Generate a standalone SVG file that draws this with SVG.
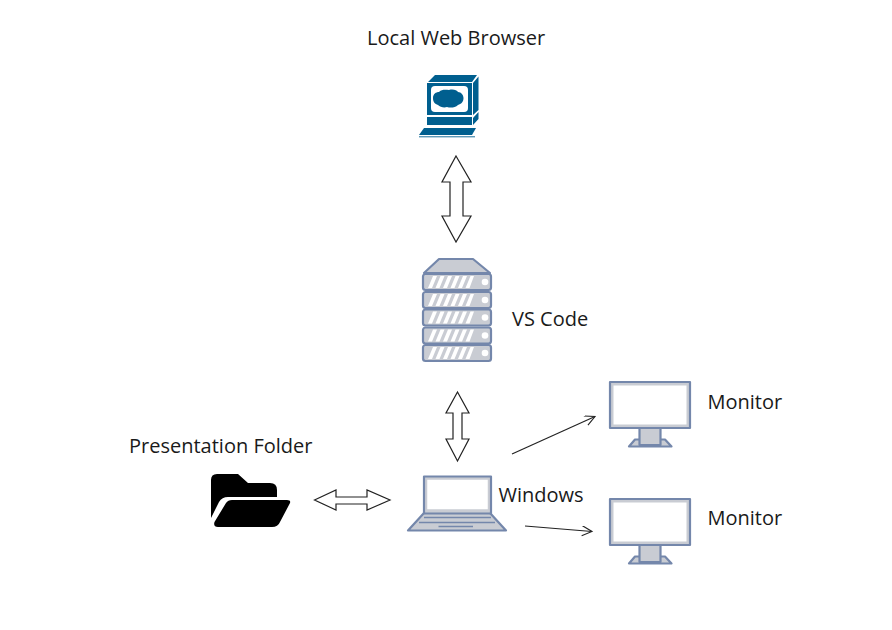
<svg xmlns="http://www.w3.org/2000/svg" width="892" height="630" viewBox="0 0 892 630">
<style>
text{font-family:"Open Sans","Noto Sans",sans-serif;font-size:20px;fill:#1a1a1a}
.b{fill:#005f8f}
.o{fill:#c9ccd3;stroke:#7487ab;stroke-width:2.2;stroke-linejoin:round}
.w{fill:#fff}
.blk{fill:none;stroke:#222;stroke-width:1.2}
.dbl{fill:#fff;stroke:#222;stroke-width:1.2;stroke-linejoin:miter}
</style>
<defs>
<marker id="open" markerWidth="14" markerHeight="12" refX="11" refY="5" orient="auto" markerUnits="userSpaceOnUse"><path d="M1 0L11 5L1 10" fill="none" stroke="#222" stroke-width="1.1"/></marker>
<g id="monitor">
<path class="o" d="M629 64.500L635 57.500H665L671.500 64.500Z"/>
<rect class="o" x="639.500" y="46" width="21" height="17"/>
<rect class="o" x="610" y="0" width="80" height="46"/>
<rect x="613.500" y="3.500" width="73" height="39" fill="#fff"/>
</g>
<g id="unit">
<rect class="o" x="423" y="0" width="68" height="16" rx="2.500"/>
<path class="w" d="M428 14L433 2H437L432 14ZM435.500 14L440.500 2H444.500L439.500 14ZM443 14L448 2H452L447 14ZM450.500 14L455.500 2H459.500L454.500 14ZM458 14L463 2H467L462 14ZM465.500 14L470.500 2H474L469.500 14Z"/>
<circle class="w" cx="485" cy="8" r="3.300"/>
</g>
</defs>
<g id="browser">
<text x="367" y="45">Local Web Browser</text>
<path class="b" d="M428 82L435 75H477L472 82ZM473 83L478.500 76.500V110L473 115ZM473 118L478.500 112V119L473 125Z"/>
<rect class="b" x="427" y="83" width="45" height="32"/>
<rect x="431" y="86" width="37" height="26" rx="4" fill="#fff"/>
<path class="b" d="M433 98C433 94 436 92 439 92C442 89 446 90 449 90C453 89 457 90 458 92C461 92 463.500 95 463.500 98C463.500 102 461 104 458 105C455 108 450 108 447 107C444 108 440 107 438 105C435 104 433 102 433 98Z"/>
<rect class="b" x="427" y="117" width="45" height="8"/>
<path class="b" d="M424 128H476L472 135H419Z"/>
<path d="M419 136.800H475" stroke="#005f8f" stroke-width="0.900"/>
</g>
<g id="vscode">
<path class="o" d="M424 273L439 259H473L490 273Z"/>
<use href="#unit" y="274"/>
<use href="#unit" y="292"/>
<use href="#unit" y="309.500"/>
<use href="#unit" y="327.500"/>
<use href="#unit" y="345"/>
<text x="512" y="326">VS Code</text>
</g>
<g id="monitor1">
<use href="#monitor" y="382"/>
<text x="707.500" y="409">Monitor</text>
</g>
<g id="monitor2">
<use href="#monitor" y="499"/>
<text x="707.500" y="525">Monitor</text>
</g>
<g id="windows">
<path class="o" d="M424 513L408 530.500H506L490 513Z"/>
<rect class="o" x="424" y="476.500" width="67" height="37"/>
<rect x="426.500" y="479" width="62" height="31" fill="#fff" stroke="#c9ccd3" stroke-width="1.500"/>
<path d="M424 517.500H491M419 522.500H495M438.500 526.500H473" stroke="#7487ab" stroke-width="1.500" fill="none"/>
<text x="498.500" y="502">Windows</text>
</g>
<g id="folder">
<text x="129" y="453">Presentation Folder</text>
<path d="M211 518V480Q211 474 217 474H238L248 483H270Q277 483 277 490V497H228Q222 497 219 502Z"/>
<path d="M214.500 522L226 503Q228 500 232 500H287Q291 500 290 503L280 522Q278 527 272 527H218Q213 527 214.500 522Z"/>
</g>
<g id="connectors">
<path class="dbl" d="M456 156L471 182H463V216H471L456 242L442 216H450V182H442Z"/>
<path class="dbl" d="M457.500 392L469 413H462V439H469L457.500 461L446 439H453V413H446Z"/>
<path class="dbl" d="M314.500 500L336 490V497H367V490L390 500L367 510V504H336V510Z"/>
<path class="blk" marker-end="url(#open)" d="M512 454L595 416.500"/>
<path class="blk" marker-end="url(#open)" d="M525 526L592 531.500"/>
</g>
</svg>
